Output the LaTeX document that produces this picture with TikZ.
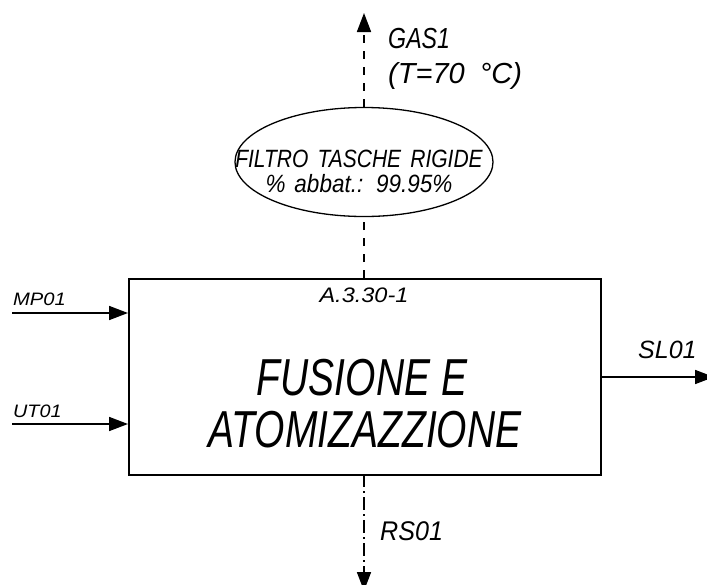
\documentclass[tikz,border=0pt]{standalone}
\usepackage{fontspec}
\usepackage{graphicx}
\setmainfont{Liberation Sans}
\usetikzlibrary{arrows.meta,shapes.geometric}
\newcommand{\cad}[3]{{\fontsize{#1}{#1}\selectfont\itshape\scalebox{#2}[1]{#3}}}
\tikzset{
  flow/.style={line width=1.7pt,-{Triangle[length=19pt,width=14pt]}},
  dashflow/.style={flow,dash pattern=on 8pt off 8pt},
  dashdotflow/.style={flow,dash pattern=on 13pt off 4pt on 2pt off 4pt},
  lbl/.style={inner sep=0pt,anchor=base west},
  clbl/.style={inner sep=0pt,anchor=base}
}
\begin{document}
\begin{tikzpicture}[x=1pt,y=-1pt]
\useasboundingbox (0,0) rectangle (707,584);
% main box
\node[draw,line width=1.7pt,minimum width=472pt,minimum height=196pt,inner sep=0pt,anchor=north west] (box) at (128,278) {};
% filter ellipse
\node[draw,ellipse,line width=1.3pt,minimum width=258pt,minimum height=109pt,inner sep=0pt] (filt) at (364,162) {};
\node[clbl] (f1) at (359,167) {\cad{25}{0.84}{FILTRO\hspace{4pt} TASCHE\hspace{4pt} RIGIDE}};
\node[clbl] (f2) at (359,192) {\cad{25}{0.9}{\%\hspace{3pt} abbat.:\hspace{5pt} 99.95\%}};
% box texts
\node[clbl] (code) at (364,302) {\cad{21}{1.12}{A.3.30-1}};
\node[clbl] (t1) at (362,395) {\cad{52}{0.75}{FUSIONE E}};
\node[clbl] (t2) at (365,447) {\cad{52}{0.75}{ATOMIZAZZIONE}};
% coordinates
\coordinate (gasend) at (364,13);
\coordinate (boxtop) at (364,278);
\coordinate (boxbot) at (364,474);
\coordinate (rsend) at (364,591);
\coordinate (mpstart) at (12,313);
\coordinate (mpend) at (128,313);
\coordinate (utstart) at (12,424);
\coordinate (utend) at (128,424);
\coordinate (slstart) at (600,377);
\coordinate (slend) at (714,377);
% connectors
\draw[dashflow] (filt.north) -- (gasend);
\draw[line width=1.5pt,dash pattern=on 8pt off 8pt] (boxtop) -- (filt.south);
\draw[dashdotflow] (boxbot) -- (rsend);
\draw[flow] (mpstart) -- (mpend);
\draw[flow] (utstart) -- (utend);
\draw[flow] (slstart) -- (slend);
% labels
\node[lbl] (gas) at (388,48) {\cad{29}{0.8}{GAS1}};
\node[lbl] (temp) at (388,83) {\cad{29}{1.0}{(T=70\hspace{7pt} \textdegree C)}};
\node[lbl] (mp) at (13,305) {\cad{18}{1.12}{MP01}};
\node[lbl] (ut) at (13,417) {\cad{18}{1.1}{UT01}};
\node[lbl] (sl) at (638,358) {\cad{25}{1.0}{SL01}};
\node[lbl] (rs) at (380,540) {\cad{27}{0.93}{RS01}};
\end{tikzpicture}
\end{document}
